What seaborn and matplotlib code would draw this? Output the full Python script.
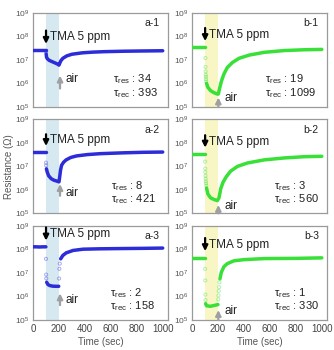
import numpy as np
import pandas as pd
import matplotlib
matplotlib.use("Agg")
import matplotlib.pyplot as plt
import seaborn as sns

# ---------------- data ----------------
# each panel: main curve (t, R, segment id) + sparse transition points
A1_T   = [0, 25, 50, 75, 99, 101, 104, 110, 125, 145, 165, 185, 200, 205, 215, 230, 260, 300, 380, 460, 550, 700, 850, 1000]
A1_R   = [2.7e7, 2.7e7, 2.7e7, 2.7e7, 2.7e7, 1.8e7, 1.3e7, 1.12e7, 9.5e6, 8.5e6, 7.6e6, 6.8e6, 6.0e6, 7.1e6, 9.3e6, 1.17e7, 1.48e7, 1.74e7, 2.0e7, 2.14e7, 2.24e7, 2.34e7, 2.4e7, 2.45e7]
A1_SEG = [0]*5 + [1]*19
A1_PT_T = [100]
A1_PT_R = [2.2e7]

A2_T   = [0, 25, 50, 75, 99, 103, 110, 120, 140, 160, 180, 200, 205, 212, 220, 235, 255, 290, 335, 420, 520, 700, 850, 1000]
A2_R   = [4.1e7, 4.1e7, 4.1e7, 4.1e7, 4.1e7, 7.9e6, 5.6e6, 4.0e6, 3.0e6, 2.6e6, 2.4e6, 2.2e6, 3.5e6, 7.0e6, 1.12e7, 1.5e7, 1.9e7, 2.4e7, 2.8e7, 3.2e7, 3.5e7, 3.8e7, 4.0e7, 4.1e7]
A2_SEG = [0]*5 + [1]*19
A2_PT_T = [100, 101]
A2_PT_R = [1.45e7, 1.1e7]

A3_T   = [0, 25, 50, 75, 99, 105, 115, 130, 150, 175, 198, 213, 230, 256, 308, 385, 513, 700, 850, 1000]
A3_R   = [1.3e8, 1.3e8, 1.28e8, 1.3e8, 1.3e8, 4.0e6, 3.2e6, 2.9e6, 2.75e6, 2.7e6, 2.7e6, 4.0e7, 5.6e7, 7.2e7, 9.1e7, 1.03e8, 1.07e8, 1.1e8, 1.12e8, 1.15e8]
A3_SEG = [0]*5 + [1]*6 + [2]*9
A3_PT_T = [100, 101, 102, 201, 203, 206]
A3_PT_R = [4.0e7, 8.5e6, 5.8e6, 5.8e6, 1.5e7, 2.5e7]

B1_T   = [0, 25, 50, 75, 100, 111, 121, 142, 168, 194, 202, 212, 225, 245, 271, 310, 362, 440, 556, 711, 866, 1000]
B1_R   = [3.4e7, 3.4e7, 3.4e7, 3.4e7, 3.4e7, 1.0e6, 6.8e5, 4.9e5, 4.0e5, 3.5e5, 3.5e5, 6.2e5, 1.2e6, 2.5e6, 4.7e6, 7.7e6, 1.17e7, 1.6e7, 2.1e7, 2.5e7, 2.7e7, 2.8e7]
B1_SEG = [0]*5 + [1]*17
B1_PT_T = [102, 103, 104, 105, 106, 107, 108]
B1_PT_R = [1.2e7, 5.0e6, 3.2e6, 2.3e6, 1.9e6, 1.5e6, 1.2e6]

B2_T   = [0, 25, 50, 75, 99, 111, 121, 142, 168, 194, 207, 220, 238, 264, 297, 349, 426, 556, 711, 866, 1000]
B2_R   = [3.5e7, 3.5e7, 3.5e7, 3.5e7, 3.5e7, 1.2e6, 6.7e5, 4.6e5, 3.9e5, 3.5e5, 4.6e5, 1.1e6, 2.1e6, 3.7e6, 6.3e6, 1.0e7, 1.4e7, 1.9e7, 2.3e7, 2.6e7, 2.7e7]
B2_SEG = [0]*5 + [1]*16
B2_PT_T = [100, 101, 102, 103, 104, 105, 107, 109]
B2_PT_R = [1.6e7, 8.0e6, 5.7e6, 4.0e6, 3.0e6, 2.3e6, 1.9e6, 1.5e6]

B3_T   = [0, 25, 50, 75, 99, 104, 111, 142, 168, 199, 214, 225, 245, 271, 323, 400, 556, 814, 1000]
B3_R   = [4.4e7, 4.4e7, 4.4e7, 4.4e7, 4.4e7, 4.9e5, 4.0e5, 3.8e5, 4.1e5, 4.5e5, 5.6e6, 1.07e7, 1.85e7, 2.5e7, 3.3e7, 3.7e7, 4.1e7, 4.2e7, 4.4e7]
B3_SEG = [0]*5 + [1]*5 + [2]*9
B3_PT_T = [100, 101, 102, 103, 201, 203, 205, 208, 211]
B3_PT_R = [1.5e7, 4.8e6, 1.2e6, 7.0e5, 7.5e5, 1.1e6, 1.7e6, 2.5e6, 4.0e6]

PANEL_LABELS = ["a-1", "a-2", "a-3", "b-1", "b-2", "b-3"]
TAU_RES = [34, 8, 2, 19, 3, 1]
TAU_REC = [393, 421, 158, 1099, 560, 330]
GAS_TEXT = "TMA 5 ppm"
AIR_TEXT = "air"
X_TICKS = [0, 200, 400, 600, 800, 1000]
Y_TICKS = [1e5, 1e6, 1e7, 1e8, 1e9]

# ---------------- style ----------------
sns.set_theme(style="white")
plt.rcParams["font.family"] = ["Liberation Sans", "DejaVu Sans"]
plt.rcParams["mathtext.fontset"] = "custom"
plt.rcParams["mathtext.rm"] = "Liberation Sans"
plt.rcParams["mathtext.it"] = "Liberation Sans:italic"
plt.rcParams["mathtext.bf"] = "Liberation Sans:bold"

BLUE = "#2c2cd8"
GREEN = "#38e038"
SHADE_A = "#d6e9f1"
SHADE_B = "#f9f6c6"
TXT = "#222222"

panels = [
    (A1_T, A1_R, A1_SEG, A1_PT_T, A1_PT_R),
    (A2_T, A2_R, A2_SEG, A2_PT_T, A2_PT_R),
    (A3_T, A3_R, A3_SEG, A3_PT_T, A3_PT_R),
    (B1_T, B1_R, B1_SEG, B1_PT_T, B1_PT_R),
    (B2_T, B2_R, B2_SEG, B2_PT_T, B2_PT_R),
    (B3_T, B3_R, B3_SEG, B3_PT_T, B3_PT_R),
]

# annotation positions (log10 of y in data units), per panel
gas_arrow = [(8.25, 7.68, 7.98), (8.37, 7.87, 8.12), (8.94, 8.38, 8.66),
             (8.36, 7.80, 8.07), (8.33, 7.80, 8.04), (8.49, 7.93, 8.21)]
air_arrow = [(5.78, 6.33, 6.18, 208), (5.75, 6.25, 5.88, 208), (5.63, 6.13, 5.85, 208),
             (5.0, 5.40, 5.36, 202), (5.0, 5.36, 5.33, 202), (5.0, 5.42, 5.38, 202)]
tau_x = [0.59, 0.58, 0.57, 0.54, 0.61, 0.61]

fig = plt.figure(figsize=(3.34, 3.5), dpi=100)
axes = fig.subplots(3, 2)
fig.subplots_adjust(left=0.099, right=0.979, top=0.963, bottom=0.086,
                    wspace=0.18, hspace=0.135)

for i, (t, r, seg, pt, pr) in enumerate(panels):
    col = i // 3
    row = i % 3
    ax = axes[row, col]
    color = BLUE if col == 0 else GREEN
    shade = SHADE_A if col == 0 else SHADE_B
    ax.axvspan(100, 200, color=shade, lw=0, zorder=0)
    df = pd.DataFrame({"t": t, "R": r, "seg": seg})
    sns.lineplot(data=df, x="t", y="R", units="seg", estimator=None,
                 color=color, lw=2.5, ax=ax, zorder=3)
    dpt = pd.DataFrame({"t": pt, "R": pr})
    sns.scatterplot(data=dpt, x="t", y="R", ax=ax, marker="o", s=5,
                    facecolors="none", edgecolor=color, linewidth=0.7,
                    alpha=0.4, zorder=3)
    ax.set_yscale("log")
    ax.set_xlim(0, 1040)
    ax.set_ylim(1e5, 1e9)
    ax.set_xticks(X_TICKS)
    ax.set_yticks(Y_TICKS)
    ax.minorticks_off()
    ax.set_xlabel("")
    ax.set_ylabel("")
    for s in ax.spines.values():
        s.set_color("#9a9a9a")
        s.set_linewidth(0.9)
    ax.tick_params(axis="x", direction="in", length=2.5, width=0.7,
                   color="#9a9a9a", labelsize=7, labelcolor="#444444", pad=3)
    ax.tick_params(axis="y", direction="in", length=2.5, width=0.7,
                   color="#9a9a9a", labelsize=6, labelcolor="#555555", pad=3)
    if row < 2:
        ax.set_xticklabels([])
    else:
        ax.set_xlabel("Time (sec)", fontsize=7, color="#555555", labelpad=2)

    # panel label
    ax.text(0.94, 0.89, PANEL_LABELS[i], transform=ax.transAxes,
            ha="right", va="center", fontsize=7.5, color=TXT)
    # gas arrow & text
    g0, g1, gt = gas_arrow[i]
    ax.annotate("", xy=(100, 10**g1), xytext=(100, 10**g0),
                arrowprops=dict(arrowstyle="-|>", lw=1.6, color="black",
                                mutation_scale=8, shrinkA=0, shrinkB=0))
    ax.text(130, 10**gt, GAS_TEXT, ha="left", va="center",
            fontsize=8.5, color=TXT)
    # air arrow & text
    a0, a1, at, ax_x = air_arrow[i]
    ax.annotate("", xy=(ax_x, 10**a1), xytext=(ax_x, 10**a0),
                arrowprops=dict(arrowstyle="-|>", lw=1.6, color="#a0a0a0",
                                mutation_scale=8, shrinkA=0, shrinkB=0))
    ax.text(ax_x + 45, 10**at, AIR_TEXT, ha="left", va="center",
            fontsize=8.5, color=TXT)
    # tau texts
    ax.text(tau_x[i], 0.29, "τ$_{\\mathrm{res}}$ : %d" % TAU_RES[i],
            transform=ax.transAxes, ha="left", va="center",
            fontsize=8, color=TXT)
    ax.text(tau_x[i], 0.15, "τ$_{\\mathrm{rec}}$ : %d" % TAU_REC[i],
            transform=ax.transAxes, ha="left", va="center",
            fontsize=8, color=TXT)

fig.text(0.028, 0.525, "Resistance (Ω)", rotation=90, ha="center",
         va="center", fontsize=7, color="#555555")

fig.savefig("out.png", dpi=100)
